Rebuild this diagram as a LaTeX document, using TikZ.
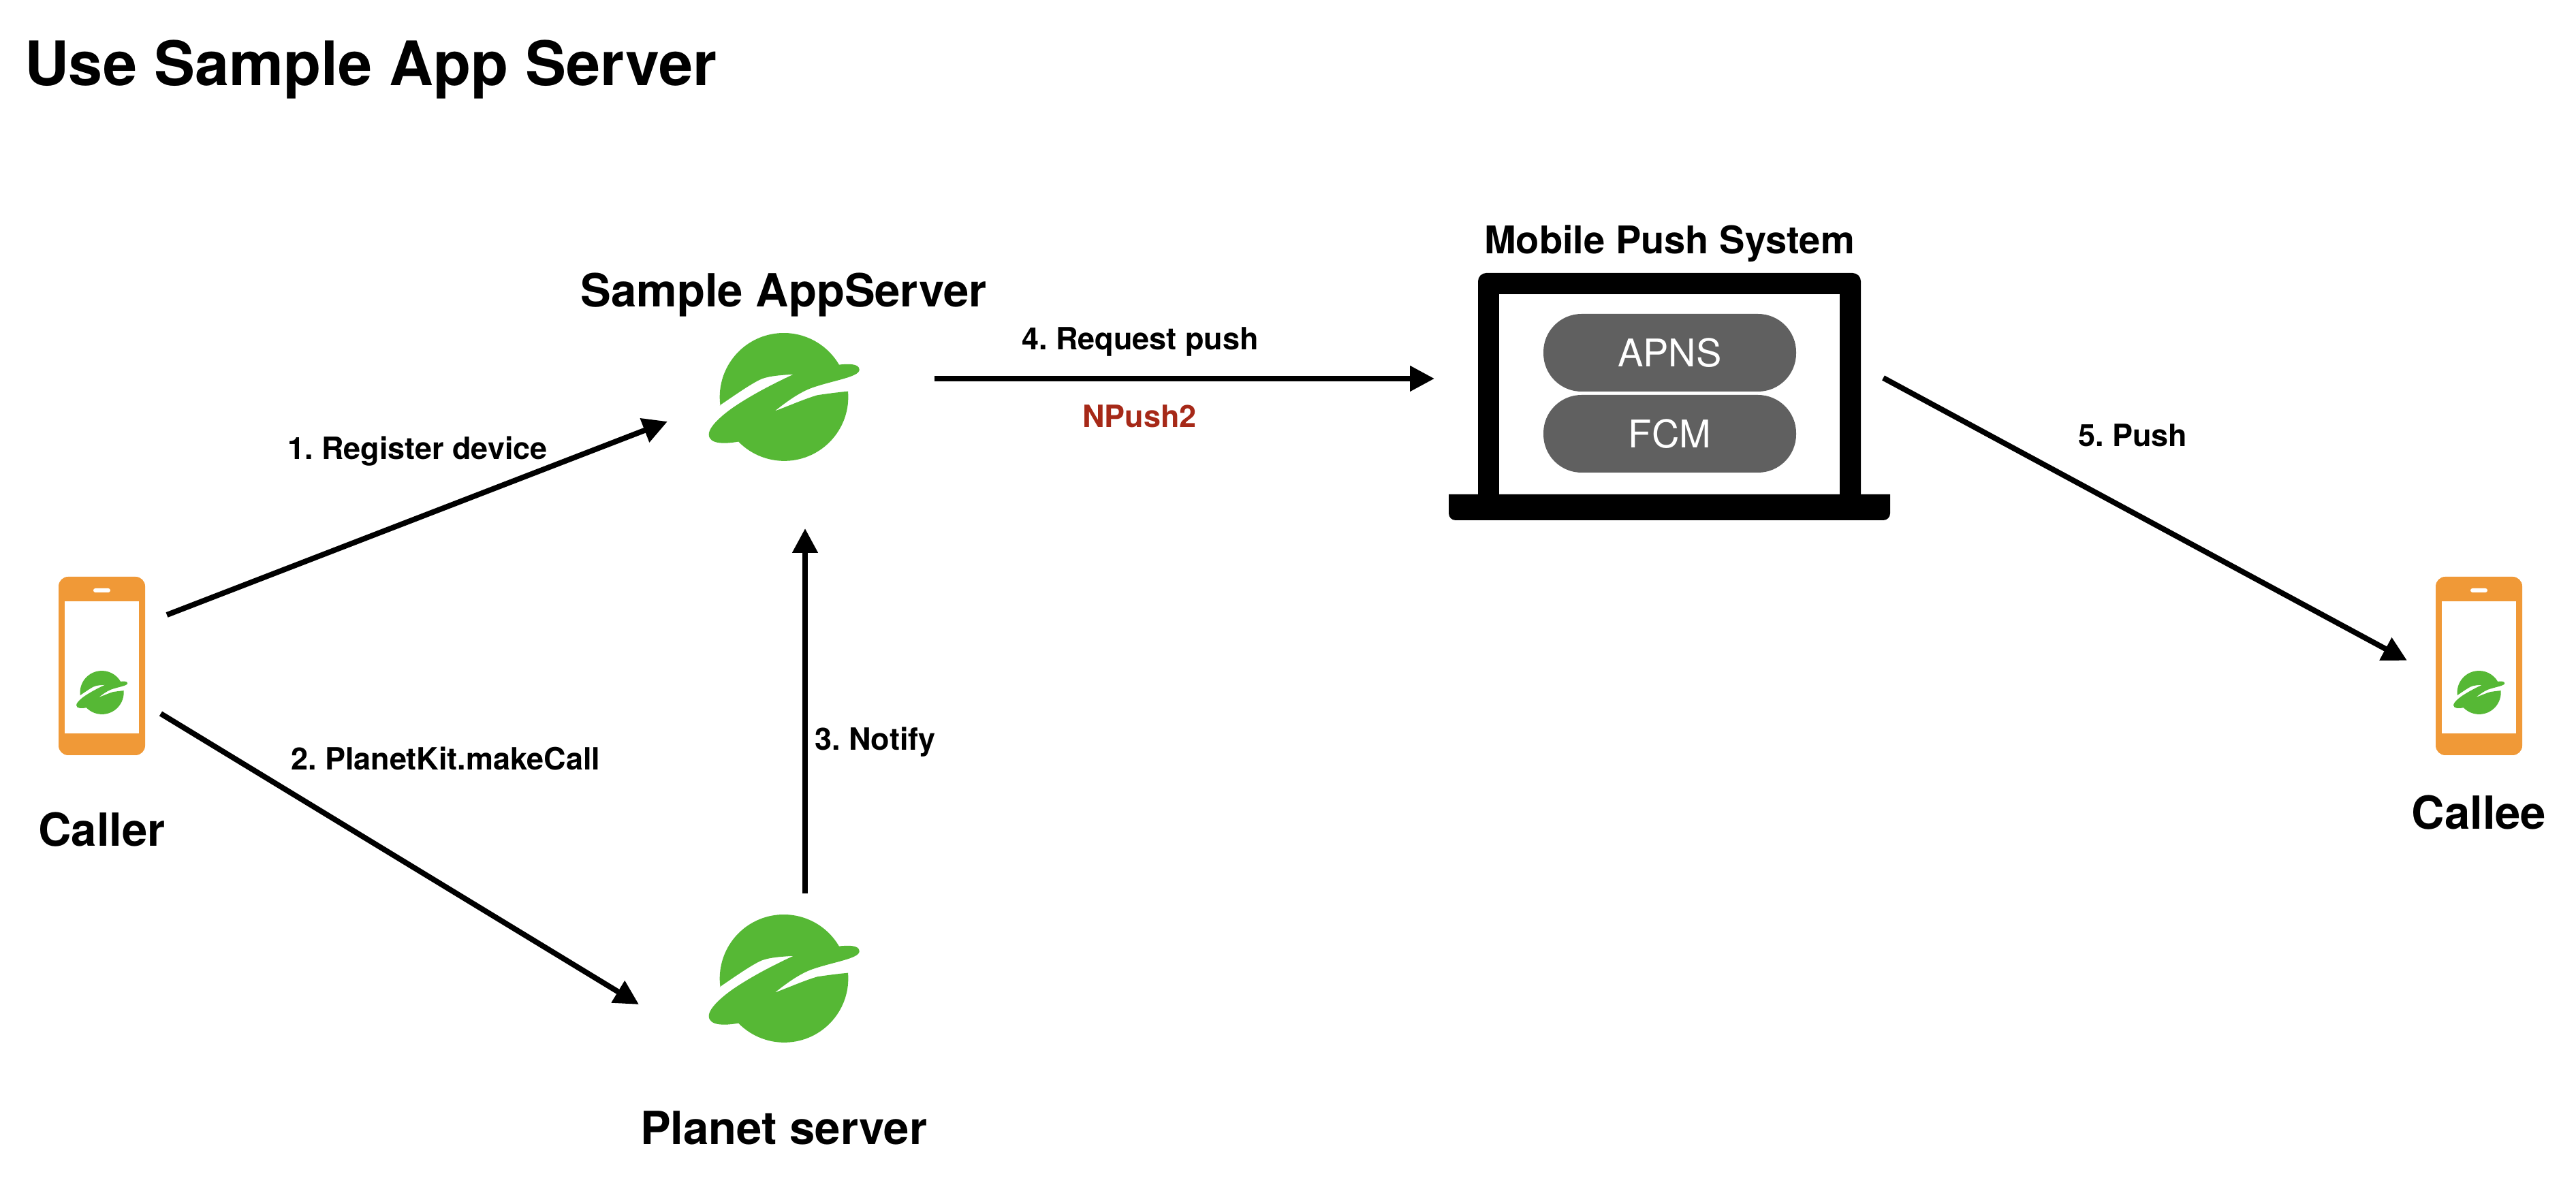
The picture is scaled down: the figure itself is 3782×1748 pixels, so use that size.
\documentclass[tikz,border=0pt]{standalone}
\usepackage{xcolor,fontspec}
\setmainfont{TeX Gyre Heros}
\usetikzlibrary{arrows.meta,positioning,calc}
\definecolor{phoneorange}{RGB}{240,153,55}
\definecolor{planetgreen}{RGB}{86,184,53}
\definecolor{pillgray}{RGB}{96,96,96}
\definecolor{npushred}{RGB}{166,41,24}
\newcommand{\sizedfont}[1]{\fontsize{#1}{#1}\selectfont}

\tikzset{
  planet/.pic={
    \fill[planetgreen] (187.5:94) arc[start angle=187.5,end angle=30.3,radius=94]
      .. controls (92,48.5) and (111,50) .. (111,40)
      .. controls (111,29) and (70,24) .. (39.3,12.7)
      .. controls (20,5) and (3,-8) .. (-13.3,-20.7)
      .. controls (10,-12) and (30,-3) .. (49.3,2.7)
      .. controls (65,5) and (80,7) .. (94.3,8.3)
      arc[start angle=5,end angle=-135.7,radius=94]
      .. controls (-85,-69) and (-110,-70) .. (-110,-55)
      .. controls (-110,-42) and (-85,-22) .. (-67.3,-10.7)
      .. controls (-40,7) and (-10,22) .. (14.3,33.3)
      .. controls (-5,32) and (-25,31) .. (-37.3,24.3)
      .. controls (-55,15) and (-80,-3) .. (-94,-12.3) -- cycle;
  }
}

\begin{document}
\frenchspacing
\begin{tikzpicture}[x=1pt,y=1pt,>={Triangle[length=36pt,width=36pt]},node distance=20pt,
  every node/.style={inner sep=0pt,outer sep=0pt},
  flow/.style={->,line width=8pt,black},
  heading/.style={font=\sizedfont{67}\bfseries},
  edgelabel/.style={anchor=base west,font=\sizedfont{45}\bfseries},
  phonebody/.style={fill=phoneorange,rounded corners=14pt,minimum width=127pt,minimum height=262pt},
  phonescreen/.style={fill=white,minimum width=109pt,minimum height=194pt},
  phonespeaker/.style={fill=white,rounded corners=3pt,minimum width=25pt,minimum height=6pt},
  logospot/.style={circle,minimum size=188pt},
  pill/.style={fill=pillgray,text=white,rounded corners=56pt,minimum width=371pt,minimum height=114pt,font=\sizedfont{56}}]
\useasboundingbox (0,0) rectangle (3782,1748);

\node[anchor=base west,font=\sizedfont{90}\bfseries] (title) at (36,1622) {Use Sample App Server};

% caller phone
\node[phonebody] (caller) at (149.5,770) {};
\node[phonescreen] (callerscreen) at (149.5,768) {};
\node[phonespeaker] (callerspeaker) at (149.5,881) {};
\pic[scale=.34] at (149.5,731) {planet};
\node[heading,below=84pt of caller] (callerlabel) {Caller};

% callee phone
\node[phonebody] (callee) at (3639.5,770) {};
\node[phonescreen] (calleescreen) at (3639.5,768) {};
\node[phonespeaker] (calleespeaker) at (3639.5,881) {};
\pic[scale=.34] at (3639.5,731) {planet};
\node[heading,below=59pt of callee] (calleelabel) {Callee};

% servers
\node[logospot] (appserver) at (1150.7,1165) {};
\pic at (appserver) {planet};
\node[heading,above=24pt of appserver] (applabel) {Sample AppServer};
\node[logospot] (planetserver) at (1150.7,311) {};
\pic at (planetserver) {planet};
\node[heading,below=101pt of planetserver] (planetlabel) {Planet server};

% laptop
\node[fill=black,rounded corners=12pt,minimum width=562pt,minimum height=340pt] (laptop) at (2451,1177) {};
\node[fill=white,minimum width=500pt,minimum height=294pt] (screen) at (2451,1169) {};
\fill (2127,1022) -- (2127,994) arc[start angle=180,end angle=270,radius=10] -- (2765,984)
  arc[start angle=270,end angle=360,radius=10] -- (2775,1022) -- cycle;
\node[pill] (apns) at (2451.5,1230) {APNS};
\node[pill,below=5pt of apns] (fcm) {FCM};
\node[above=16pt of laptop,font=\sizedfont{56}\bfseries] (pushlabel) {Mobile Push System};

% arrow ends
\coordinate (callerup) at (245,845);
\coordinate (appin) at (980,1129);
\coordinate (callerdown) at (236,700);
\coordinate (planetin) at (938,273);
\coordinate (planetout) at (1182,436);
\coordinate (appbelow) at (1182,972);
\coordinate (appout) at (1372,1192);
\coordinate (laptopin) at (2106,1192);
\coordinate (laptopout) at (2765,1193);
\coordinate (calleein) at (3534,778);

\draw[flow] (callerup) -- (appin);
\draw[flow] (callerdown) -- (planetin);
\draw[flow] (planetout) -- (appbelow);
\draw[flow] (appout) -- (laptopin);
\draw[flow] (laptopout) -- (calleein);

\node[edgelabel] (registerlabel) at (422,1073) {1. Register device};
\node[edgelabel] (makecalllabel) at (427,617) {2. PlanetKit.makeCall};
\node[edgelabel] (notifylabel) at (1196,646) {3. Notify};
\node[edgelabel] (requestlabel) at (1500,1234) {4. Request push};
\node[edgelabel,text=npushred] (npushlabel) at (1589,1120) {NPush2};
\node[edgelabel] (pushedgelabel) at (3051,1092) {5. Push};
\end{tikzpicture}
\end{document}
